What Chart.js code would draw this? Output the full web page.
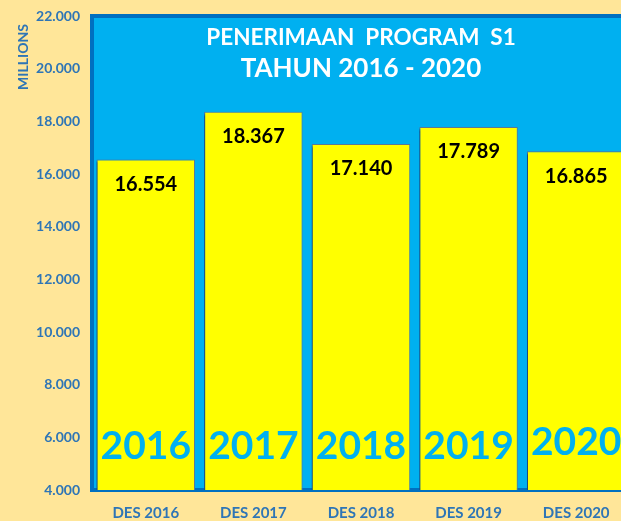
<!DOCTYPE html>
<html>
<head>
<meta charset="utf-8">
<script src="https://cdn.jsdelivr.net/npm/chart.js@4.4.1/dist/chart.umd.min.js"></script>
<style>
	html, body { margin: 0; padding: 0; overflow: hidden; background: #FFE699; }
	.canvas-container { width: 640px; height: 521px; }
</style>
</head>
<body>
<div class="canvas-container"><canvas id="chart" width="640" height="521"></canvas></div>
<script>
// data
var categories = ["DES 2016", "DES 2017", "DES 2018", "DES 2019", "DES 2020"];
var years = ["2016", "2017", "2018", "2019", "2020"];
var values = [16554, 18367, 17140, 17789, 16865];
var yMin = 4000, yMax = 22000, yStep = 2000;
var titleLines = ["PENERIMAAN  PROGRAM  S1", "TAHUN 2016 - 2020"];
var axisTitle = "MILLIONS";

var FONT = "Lato, 'Open Sans', sans-serif";
var AXIS_BLUE = "#2E75B6";

function fmt(v) {
	return String(v).replace(/\B(?=(\d{3})+(?!\d))/g, ".");
}

var decorPlugin = {
	id: "decor",
	beforeDraw(chart) {
		const ctx = chart.ctx;
		const a = chart.chartArea;
		ctx.save();
		ctx.fillStyle = "#FFE699";
		ctx.fillRect(0, 0, chart.width, chart.height);
		ctx.fillStyle = "#00B0F0";
		ctx.fillRect(a.left, a.top, a.right - a.left, a.bottom - a.top);
		ctx.strokeStyle = "#0070C0";
		ctx.lineWidth = 4;
		ctx.strokeRect(a.left, a.top, a.right - a.left, a.bottom - a.top);
		// titles inside the plot
		const cx = (a.left + a.right) / 2;
		ctx.fillStyle = "#FFFFFF";
		ctx.textAlign = "center";
		ctx.textBaseline = "middle";
		ctx.font = "bold 22.5px " + FONT;
		ctx.fillText(titleLines[0], cx, 38);
		ctx.font = "bold 26px " + FONT;
		ctx.fillText(titleLines[1], cx, 69);
		// axis title
		ctx.translate(23, 57);
		ctx.rotate(-Math.PI / 2);
		ctx.fillStyle = AXIS_BLUE;
		ctx.font = "bold 14px " + FONT;
		ctx.fillText(axisTitle, 0, 0);
		ctx.restore();
	},
	beforeDatasetDraw(chart) {
		const ctx = chart.ctx;
		ctx.save();
		ctx.shadowColor = "rgba(0, 55, 120, 0.75)";
		ctx.shadowOffsetX = -3;
		ctx.shadowOffsetY = 2;
		ctx.shadowBlur = 2;
	},
	afterDatasetDraw(chart) {
		chart.ctx.restore();
	},
	afterDatasetsDraw(chart) {
		const ctx = chart.ctx;
		const meta = chart.getDatasetMeta(0);
		ctx.save();
		ctx.textAlign = "center";
		ctx.textBaseline = "middle";
		meta.data.forEach((bar, i) => {
			ctx.fillStyle = "#000000";
			ctx.font = "bold 20px " + FONT;
			ctx.fillText(fmt(values[i]), bar.x, bar.y + 25);
			ctx.fillStyle = "#00B0F0";
			ctx.font = "bold 39px " + FONT;
			ctx.fillText(years[i], bar.x, i === 4 ? 442 : 446);
		});
		ctx.restore();
	},
};

var ctx = document.getElementById("chart").getContext("2d");
var chart = new Chart(ctx, {
	type: "bar",
	data: {
		labels: categories,
		datasets: [
			{
				data: values,
				backgroundColor: "#FFFF00",
				borderColor: "#5A7896",
				borderWidth: 1,
				barPercentage: 0.915,
				categoryPercentage: 1,
			},
		],
	},
	options: {
		responsive: false,
		animation: false,
		layout: { padding: { top: 16, right: 10, left: 0, bottom: 0 } },
		plugins: {
			legend: { display: false },
			tooltip: { enabled: false },
		},
		scales: {
			y: {
				min: yMin,
				max: yMax,
				ticks: {
					stepSize: yStep,
					color: AXIS_BLUE,
					font: { family: FONT, size: 14, weight: "bold" },
					padding: 12,
					callback: (v) => fmt(v),
				},
				grid: { display: false, drawTicks: false },
				border: { display: false },
				afterFit(scale) {
					scale.width = 92;
					scale.paddingTop = 0;
					scale.paddingBottom = 0;
				},
			},
			x: {
				ticks: {
					color: AXIS_BLUE,
					font: { family: FONT, size: 15, weight: "bold" },
					padding: 14,
				},
				grid: { display: false, drawTicks: false },
				border: { display: false },
				afterFit(scale) {
					scale.height = 31;
					scale.paddingLeft = 0;
					scale.paddingRight = 0;
				},
			},
		},
	},
	plugins: [decorPlugin],
});
</script>
</body>
</html>
